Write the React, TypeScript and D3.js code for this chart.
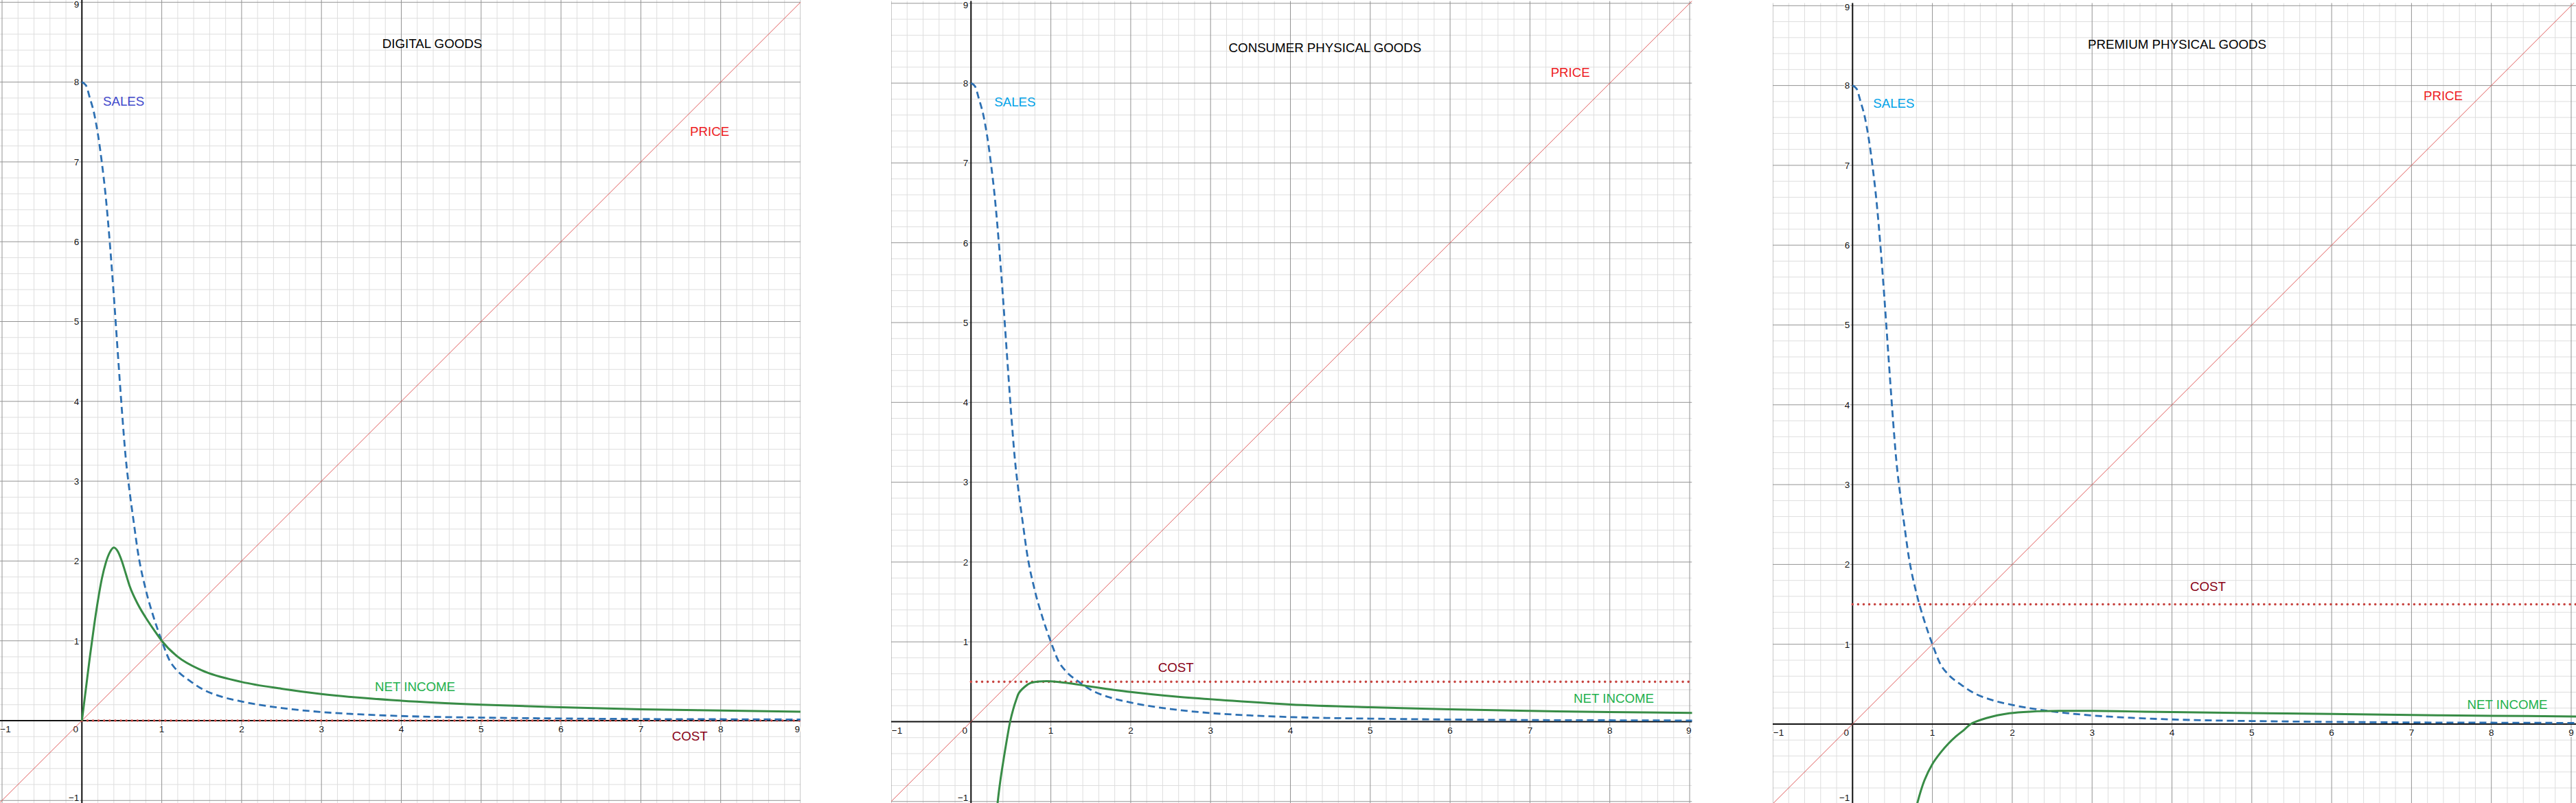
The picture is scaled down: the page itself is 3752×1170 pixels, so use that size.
import React from 'react';
import * as d3 from 'd3';

// ---- chart content ----
const titles = ['DIGITAL GOODS', 'CONSUMER PHYSICAL GOODS', 'PREMIUM PHYSICAL GOODS'];
const costLevels = [0, 0.5, 1.5];
const tickValues = [-1, 0, 1, 2, 3, 4, 5, 6, 7, 8, 9];

// price line: price equals quantity index
const priceX = [-1.2, 9.2];
const priceY = [-1.2, 9.2];

// sales (same demand curve in every market)
const salesX = [0, 0.05, 0.1, 0.15, 0.2, 0.25, 0.3, 0.35, 0.4, 0.45, 0.5, 0.55, 0.6, 0.65, 0.7, 0.8, 0.9, 1.0, 1.1, 1.2, 1.35, 1.5, 1.75, 2, 2.5, 3, 3.5, 4, 5, 6, 7, 8, 9.1];
const salesY = [8, 7.96, 7.8, 7.62, 7.35, 6.99, 6.55, 5.98, 5.32, 4.6, 3.9, 3.28, 2.85, 2.48, 2.12, 1.64, 1.29, 1.0, 0.75, 0.62, 0.5, 0.4, 0.3, 0.24, 0.158, 0.108, 0.078, 0.058, 0.038, 0.027, 0.02, 0.017, 0.014];

// net income per market
const digitalIncomeX = [0, 0.05, 0.1, 0.15, 0.2, 0.25, 0.3, 0.35, 0.4, 0.45, 0.5, 0.55, 0.6, 0.7, 0.8, 0.9, 1, 1.2, 1.5, 2, 2.5, 3, 4, 5, 6, 7, 8, 9.1];
const digitalIncomeY = [0, 0.4, 0.8, 1.17, 1.5, 1.78, 1.98, 2.11, 2.17, 2.12, 2.0, 1.84, 1.68, 1.46, 1.29, 1.14, 1.0, 0.8, 0.63, 0.485, 0.4, 0.333, 0.25, 0.2, 0.167, 0.142, 0.126, 0.111];

const consumerIncomeX = [0.3, 0.335, 0.37, 0.407, 0.45, 0.49, 0.53, 0.565, 0.6, 0.68, 0.75, 0.85, 1.0, 1.2, 1.48, 2, 2.57, 3.14, 4, 5, 6, 7, 8, 9.1];
const consumerIncomeY = [-1.4, -1.0, -0.72, -0.48, -0.22, 0, 0.16, 0.27, 0.36, 0.443, 0.487, 0.503, 0.506, 0.486, 0.443, 0.371, 0.314, 0.271, 0.215, 0.18, 0.155, 0.135, 0.12, 0.11];

const premiumIncomeX = [0.7, 0.75, 0.8, 0.9, 1.0, 1.1, 1.2, 1.3, 1.4, 1.48, 1.677, 1.964, 2.25, 2.6, 3, 3.5, 4, 5, 6, 7, 8, 9.1];
const premiumIncomeY = [-1.58, -1.28, -1.035, -0.705, -0.5, -0.36, -0.245, -0.15, -0.07, 0, 0.075, 0.135, 0.157, 0.165, 0.165, 0.158, 0.15, 0.138, 0.126, 0.114, 0.104, 0.095];

const incomeSeries = [
  { x: digitalIncomeX, y: digitalIncomeY },
  { x: consumerIncomeX, y: consumerIncomeY },
  { x: premiumIncomeX, y: premiumIncomeY },
];

// ---- layout ----
const W = 3752;
const H = 1170;
const UNIT = 116.3;
const FONT = "'Liberation Sans', Arial, Helvetica, sans-serif";
const TICK_FONT = 13.5;

type Pt = [number, number];
interface Layout {
  ox: number; oy: number;
  x0: number; x1: number; y0: number; y1: number;
  salesColor: string;
  title: Pt; sales: Pt; price: Pt; cost: Pt; income: Pt;
}

const layouts: Layout[] = [
  {
    ox: 119.3, oy: 1050, x0: -1.03, x1: 9.0, y0: -1.06, y1: 9.03,
    salesColor: '#3f48cc',
    title: [4.387, 8.486], sales: [0.264, 7.764], price: [7.616, 7.386], cost: [7.39, -0.192], income: [3.67, 0.43],
  },
  {
    ox: 1414.3, oy: 1051.5, x0: -1.0, x1: 9.03, y0: -1.04, y1: 9.03,
    salesColor: '#00a2e8',
    title: [4.434, 8.448], sales: [0.292, 7.77], price: [7.26, 8.138], cost: [2.342, 0.686], income: [7.547, 0.297],
  },
  {
    ox: 2698.3, oy: 1055, x0: -1.0, x1: 9.07, y0: -1.0, y1: 9.035,
    salesColor: '#00a2e8',
    title: [4.065, 8.516], sales: [0.258, 7.781], price: [7.151, 7.876], cost: [4.228, 1.728], income: [7.698, 0.249],
  },
];

const zip = (xs: number[], ys: number[]): Pt[] => xs.map((v, i) => [v, ys[i]]);
const fmt = (v: number) => (v < 0 ? `\u2212${-v}` : `${v}`);

function Panel({ idx }: { idx: number }) {
  const L = layouts[idx];
  const x = d3.scaleLinear().domain([0, 1]).range([L.ox, L.ox + UNIT]);
  const y = d3.scaleLinear().domain([0, 1]).range([L.oy, L.oy - UNIT]);
  const left = x(L.x0), right = x(L.x1), top = y(L.y1), bottom = y(L.y0);
  const visibleBottom = Math.min(bottom, H);

  const minorX = d3.range(Math.ceil(L.x0 * 5), Math.floor(L.x1 * 5) + 1).filter(k => k % 5 !== 0).map(k => k / 5);
  const minorY = d3.range(Math.ceil(L.y0 * 5), Math.floor(L.y1 * 5) + 1).filter(k => k % 5 !== 0).map(k => k / 5);
  const majorX = tickValues.filter(v => v >= L.x0 && v <= L.x1 + 0.001);
  const majorY = tickValues.filter(v => v >= L.y0 && v <= L.y1 + 0.001);

  const line = d3.line<Pt>().x(d => x(d[0])).y(d => y(d[1])).curve(d3.curveMonotoneX);
  const smooth = d3.line<Pt>().x(d => x(d[0])).y(d => y(d[1])).curve(d3.curveCatmullRom.alpha(0.5));
  const straight = d3.line<Pt>().x(d => x(d[0])).y(d => y(d[1]));

  const clipId = `clip-${idx}`;
  const inc = incomeSeries[idx];
  const cost = costLevels[idx];

  // keep tick labels inside the panel frame
  const labelHalfWidth = (v: number) => (fmt(v).length * TICK_FONT * 0.56) / 2;
  const xLabelPos = (v: number) => {
    const cx = v === 0 ? x(0) - 9 : x(v);
    const hw = labelHalfWidth(v);
    return Math.min(Math.max(cx, left + hw + 1), right - hw - 1);
  };
  const yLabelBase = (v: number) => Math.min(Math.max(y(v) + 4.8, top + 11), visibleBottom - 3);

  const labelStyle = { fontFamily: FONT, fontSize: 18.7 } as const;

  return (
    <g>
      <defs>
        <clipPath id={clipId}>
          <rect x={left} y={top} width={right - left} height={bottom - top} />
        </clipPath>
      </defs>
      <g clipPath={`url(#${clipId})`}>
        <rect x={left} y={top} width={right - left} height={bottom - top} fill="#fff" />
        {minorX.map(v => (
          <line key={`mx${v}`} x1={x(v)} x2={x(v)} y1={top} y2={bottom} stroke="#dedede" strokeWidth={1} />
        ))}
        {minorY.map(v => (
          <line key={`my${v}`} y1={y(v)} y2={y(v)} x1={left} x2={right} stroke="#dedede" strokeWidth={1} />
        ))}
        {majorX.map(v => (
          <line key={`Mx${v}`} x1={x(v)} x2={x(v)} y1={top} y2={bottom} stroke="#939393" strokeWidth={1} />
        ))}
        {majorY.map(v => (
          <line key={`My${v}`} y1={y(v)} y2={y(v)} x1={left} x2={right} stroke="#939393" strokeWidth={1} />
        ))}
        {/* axes */}
        <line x1={x(0)} x2={x(0)} y1={top} y2={bottom} stroke="#111" strokeWidth={2} />
        <line y1={y(0)} y2={y(0)} x1={left} x2={right} stroke="#111" strokeWidth={2} />

        {/* tick labels */}
        <g fontFamily={FONT} fontSize={TICK_FONT} fill="#111" stroke="#fff" strokeWidth={3} paintOrder="stroke" strokeLinejoin="round">
          {majorX.map(v => (
            <text key={`tx${v}`} x={xLabelPos(v)} y={y(0) + 17} textAnchor="middle">
              {fmt(v)}
            </text>
          ))}
          {majorY.filter(v => v !== 0).map(v => (
            <text key={`ty${v}`} x={x(0) - 4} y={yLabelBase(v)} textAnchor="end">
              {fmt(v)}
            </text>
          ))}
        </g>

        {/* price */}
        <path d={straight(zip(priceX, priceY)) || ''} fill="none" stroke="#e05c5c" strokeWidth={1} />
        {/* cost */}
        <path d={straight([[0, cost], [L.x1 + 0.1, cost]]) || ''} fill="none" stroke="#c74440" strokeWidth={3.6} strokeLinecap="round" strokeDasharray="0 8.1" />
        {/* sales */}
        <path d={line(zip(salesX, salesY)) || ''} fill="none" stroke="#2d70b3" strokeWidth={2.8} strokeDasharray="10 6" />
        {/* net income */}
        <path d={(idx === 0 ? line : smooth)(zip(inc.x, inc.y)) || ''} fill="none" stroke="#388c46" strokeWidth={3} />
      </g>

      {/* annotations */}
      <text x={x(L.title[0])} y={y(L.title[1]) + 6.6} textAnchor="middle" fill="#000" {...labelStyle}>{titles[idx]}</text>
      <text x={x(L.sales[0])} y={y(L.sales[1]) + 6.8} fill={L.salesColor} {...labelStyle}>SALES</text>
      <text x={x(L.price[0])} y={y(L.price[1]) + 6.8} fill="#ed1c24" {...labelStyle}>PRICE</text>
      <text x={x(L.cost[0])} y={y(L.cost[1]) + 6.8} fill="#880015" {...labelStyle}>COST</text>
      <text x={x(L.income[0])} y={y(L.income[1]) + 6.8} fill="#22b14c" {...labelStyle}>NET INCOME</text>
    </g>
  );
}

export default function App() {
  return (
    <svg
      width={W}
      height={H}
      viewBox={`0 0 ${W} ${H}`}
      style={{ position: 'absolute', left: 0, top: 0, background: '#fff' }}
    >
      <rect x={0} y={0} width={W} height={H} fill="#fff" />
      {layouts.map((_, i) => <Panel key={i} idx={i} />)}
    </svg>
  );
}
